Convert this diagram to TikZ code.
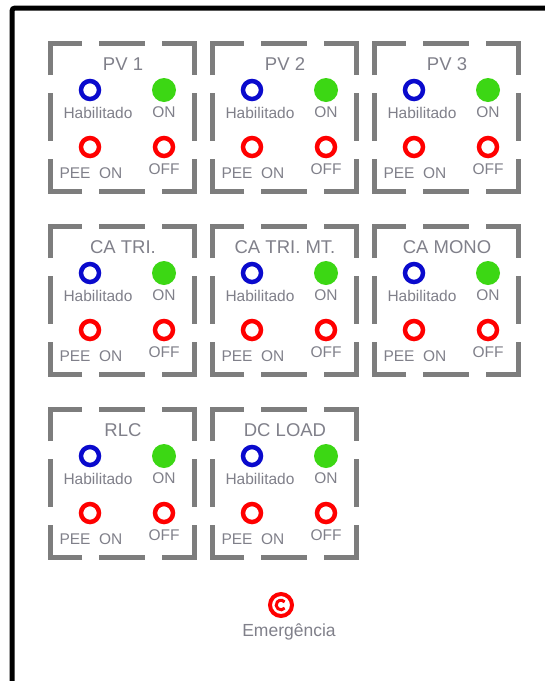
\documentclass[tikz,border=0pt]{standalone}
\usepackage{fontspec}
\setmainfont{Liberation Sans}
\usetikzlibrary{calc}
\definecolor{ledblue}{RGB}{10,10,205}
\definecolor{ledgreen}{RGB}{60,215,20}
\definecolor{ledred}{RGB}{255,0,0}
\definecolor{txtgray}{RGB}{128,128,138}
\definecolor{framegray}{RGB}{125,125,125}
\begin{document}
\begin{tikzpicture}[x=1pt, y=-1pt,
  ring/.style={circle, draw, line width=4.5pt, minimum size=18pt, inner sep=0pt},
  lamp/.style={circle, fill=ledgreen, minimum size=24pt, inner sep=0pt},
  lab/.style={text=txtgray, font=\fontsize{15.5}{17}\selectfont, inner sep=0pt, anchor=base},
  ttl/.style={text=txtgray, font=\fontsize{18.5}{20}\selectfont, inner sep=0pt, anchor=base},
  edge/.style={line width=5pt, draw=framegray}]
  \clip (0,0) rectangle (545,681);
  \fill[white] (0,0) rectangle (545,681);
  % outer cabinet frame
  \draw[line width=5pt, rounded corners=3pt] (12,700) -- (12,8) -- (560,8);
  % control panels
  \foreach \px/\py/\ttltext/\nm in {50/43/PV 1/pvone, 212/43/PV 2/pvtwo, 374/43/PV 3/pvthree,
      50/226/CA TRI./catri, 212/226/CA TRI. MT./catrimt, 374/226/CA MONO/camono,
      50/409/RLC/rlc, 212/409/DC LOAD/dcload} {
    \begin{scope}[shift={(\px,\py)}]
      \draw[edge] (0,32) -- (0,0) -- (32,0);
      \draw[edge] (112,0) -- (144,0) -- (144,32);
      \draw[edge] (144,116) -- (144,148) -- (112,148);
      \draw[edge] (32,148) -- (0,148) -- (0,116);
      \draw[edge] (49,0) -- (95,0);
      \draw[edge] (49,148) -- (95,148);
      \draw[edge] (0,50) -- (0,98);
      \draw[edge] (144,50) -- (144,98);
      \node[ttl] (\nm-t) at (73,27) {\ttltext};
      \node[ring, draw=ledblue] (\nm-hab) at (40,47) {};
      \node[lamp] (\nm-on) at (114,47) {};
      \node[ring, draw=ledred] (\nm-pee) at (40,104) {};
      \node[ring, draw=ledred] (\nm-off) at (114,104) {};
      \node[lab] (\nm-habt) at (48,75) {Habilitado};
      \node[lab] (\nm-ont) at (114,74) {ON};
      \node[lab] (\nm-peet) at (41,135) {PEE\ \ ON};
      \node[lab] (\nm-offt) at (114,131) {OFF};
    \end{scope}
  }
  % emergency stop
  \node[ring, draw=ledred, line width=4pt, minimum size=22pt] (emg) at (281,605) {};
  \draw[ledred, line width=3pt] ($(emg.center)+(40:4.8)$) arc[start angle=40, end angle=320, radius=4.8];
  \node[lab, font=\fontsize{17.5}{19}\selectfont] (emgt) at (289,636) {Emergência};
\end{tikzpicture}
\end{document}
